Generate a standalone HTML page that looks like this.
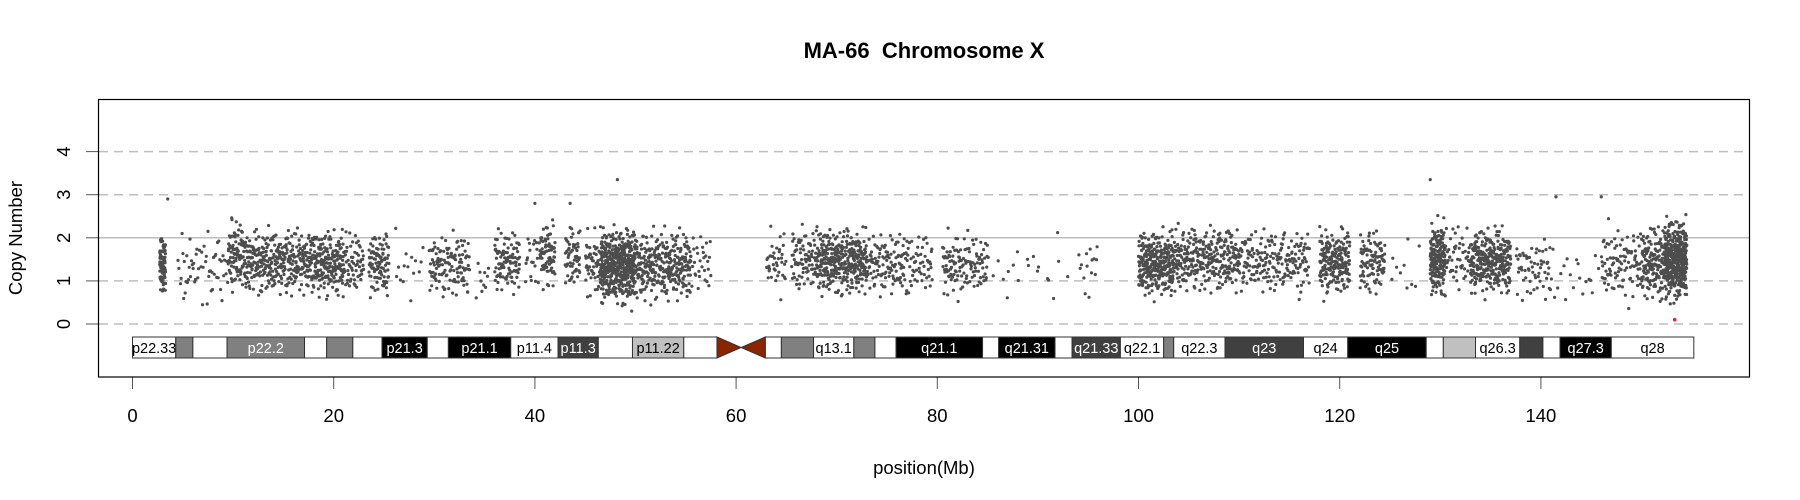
<!DOCTYPE html>
<html><head><meta charset="utf-8"><style>
html,body{margin:0;padding:0;background:#fff;}
svg{display:block;font-family:"Liberation Sans",Arial,sans-serif;}
</style></head><body>
<svg id="chart" width="1800" height="500" viewBox="0 0 1800 500" xmlns="http://www.w3.org/2000/svg">
<rect width="1800" height="500" fill="#fff"/>
<text x="924" y="58" text-anchor="middle" font-size="22" font-weight="bold" style="white-space:pre">MA-66  Chromosome X</text>
<text x="924" y="474" text-anchor="middle" font-size="18.5">position(Mb)</text>
<text transform="translate(22,238) rotate(-90)" text-anchor="middle" font-size="18.5">Copy Number</text>
<g id="grid"></g><g id="points"></g><g id="bands"></g><g id="axes"></g>
<rect x="98.5" y="99.5" width="1651" height="277.5" fill="none" stroke="#000" stroke-width="1.2"/>
</svg>
<script>
const xTicks=[0,20,40,60,80,100,120,140];
const yTicks=[0,1,2,3,4];
// bands: start, end (Mb)
const bandStart=[0,4.3,6.0,9.4,17.1,19.3,21.9,24.8,29.3,31.4,37.6,42.3,46.3,49.7,54.8,62.9,64.5,67.7,71.7,73.8,75.9,84.5,86.1,91.7,93.4,98.2,102.5,103.5,108.6,116.4,120.8,128.6,130.3,133.5,137.9,140.2,141.9,147.0];
const bandEnd=[4.3,6.0,9.4,17.1,19.3,21.9,24.8,29.3,31.4,37.6,42.3,46.3,49.7,54.8,58.1,64.5,67.7,71.7,73.8,75.9,84.5,86.1,91.7,93.4,98.2,102.5,103.5,108.6,116.4,120.8,128.6,130.3,133.5,137.9,140.2,141.9,147.0,155.2];
const bandStain=["w","g","w","g","w","g","w","b","w","b","w","d","w","l","w","w","g","w","g","w","b","w","b","w","d","w","g","w","d","w","b","w","l","w","d","w","b","w"];
const bandLabel=["p22.33","","","p22.2","","","","p21.3","","p21.1","p11.4","p11.3","","p11.22","","","","q13.1","","","q21.1","","q21.31","","q21.33","q22.1","","q22.3","q23","q24","q25","","","q26.3","","","q27.3","q28"];
const centromere=[58.1,62.9];
// point segments: start Mb, end Mb, count, median copy number, spread
const segStart=[2.7,4.5,9.5,11,18,21,23.5,26,29.5,34,36,39,40.5,43,45,46.5,50,55.5,63,65.5,68,73,77,80.5,82.5,85,94,100,103.5,110,118,122,125,129,130.5,133,137.5,141,146,150,152.3];
const segEnd=[3.3,9.5,11,18,21,23,25.5,29,33.5,35.5,38.5,40.5,42,44.5,46.5,50,55.5,57.5,65,68,73,77,79.5,82.5,85,93,96,103.5,110,117,121,124.5,128,130.5,133,137,141,146,150,152.3,154.5];
const segCount=[80,60,80,350,200,60,100,15,130,10,100,20,80,60,50,450,300,30,40,80,350,120,50,60,60,20,15,300,300,200,200,100,10,180,50,300,60,20,100,150,400];
const segMedian=[1.4,1.3,1.6,1.45,1.4,1.4,1.4,1.35,1.35,1.1,1.45,1.5,1.6,1.55,1.4,1.35,1.35,1.4,1.45,1.5,1.45,1.4,1.4,1.35,1.4,1.3,1.3,1.4,1.5,1.45,1.45,1.45,1.3,1.5,1.55,1.45,1.3,1.1,1.4,1.4,1.5];
const segSpread=[0.33,0.38,0.38,0.33,0.33,0.33,0.33,0.33,0.33,0.22,0.33,0.33,0.33,0.33,0.33,0.38,0.36,0.33,0.33,0.33,0.33,0.33,0.33,0.33,0.33,0.33,0.33,0.33,0.33,0.33,0.33,0.33,0.33,0.38,0.33,0.33,0.33,0.33,0.38,0.38,0.4];
const highPos=[3.5,40,43.5,48.2,129,141.5,146];
const highVal=[2.9,2.8,2.8,3.35,3.35,2.95,2.95];
const outlierPos=[153.3];const outlierVal=[0.1];

const NS="http://www.w3.org/2000/svg";
const X=mb=>132.5+10.06*mb;
const Y=v=>324-43.1*v;
function mk(tag,attrs,parent){const e=document.createElementNS(NS,tag);for(const k in attrs)e.setAttribute(k,attrs[k]);parent.appendChild(e);return e;}
const grid=document.getElementById('grid'),pts=document.getElementById('points'),bands=document.getElementById('bands'),axes=document.getElementById('axes');
yTicks.forEach(v=>{
  const l=mk('line',{x1:99,x2:1749,y1:Y(v),y2:Y(v),stroke:'#bebebe','stroke-width':1.5},grid);
  if(v!==2)l.setAttribute('stroke-dasharray','9,6');
  
  
});
function vdc(n,b){let r=0,f=1/b;while(n>0){r+=f*(n%b);n=Math.floor(n/b);f/=b;}return r;}
let idx=1;
segStart.forEach((s,i)=>{
  const e=segEnd[i],n=segCount[i],m=segMedian[i],sd=segSpread[i];
  for(let k=0;k<n;k++){
    idx++;
    const u=vdc(idx,2),a=vdc(idx,3),b=vdc(idx,5),c=vdc(idx,7);
    const z=(a+b+c-1.5)*2;
    const v=m+sd*z;
    const c1=mk('circle',{cx:(X(s+(e-s)*u)).toFixed(1),cy:Y(v).toFixed(1),r:1.6,fill:'#4d4d4d'},pts);
    
    
  }
});
highPos.forEach((p,i)=>{
  const c3=mk('circle',{cx:X(p),cy:Y(highVal[i]),r:1.6,fill:'#4d4d4d'},pts);
  
  
});
outlierPos.forEach((p,i)=>{
  const c2=mk('circle',{cx:X(p),cy:Y(outlierVal[i]),r:1.8,fill:'#d62728'},pts);
  
  
});
const fills={w:'#ffffff',g:'#808080',b:'#000000',d:'#404040',l:'#c0c0c0'};
const bt=337,bb=358;
bandStart.forEach((s,i)=>{
  const r=mk('rect',{x:X(s),y:bt,width:X(bandEnd[i])-X(s),height:bb-bt,fill:fills[bandStain[i]],stroke:'#333','stroke-width':1},bands);
  
  
  if(bandLabel[i]){
    const t=mk('text',{x:(X(s)+X(bandEnd[i]))/2,y:bb-5,'text-anchor':'middle','font-size':14.5,fill:(bandStain[i]==='w'||bandStain[i]==='l')?'#000':'#fff'},bands);
    t.textContent=bandLabel[i];
    
    
  }
});
const c0=X(centromere[0]),c1x=X(centromere[1]),cm=(c0+c1x)/2,ym=(bt+bb)/2;
const cen=mk('path',{d:`M${c0},${bt}L${cm},${ym}L${c0},${bb}Z M${c1x},${bt}L${cm},${ym}L${c1x},${bb}Z`,fill:'#8b2500',stroke:'#333','stroke-width':1},bands);


xTicks.forEach(t=>{
  const l=mk('line',{x1:X(t),x2:X(t),y1:377,y2:389,stroke:'#555','stroke-width':1},axes);
  
  
  const tx=mk('text',{x:X(t),y:422,'text-anchor':'middle','font-size':18.5},axes);
  tx.textContent=t;
  
  
});
yTicks.forEach(v=>{
  const l=mk('line',{x1:86,x2:98,y1:Y(v),y2:Y(v),stroke:'#555','stroke-width':1},axes);
  
  
  const tx=mk('text',{transform:`translate(70,${Y(v)}) rotate(-90)`,'text-anchor':'middle','font-size':18.5},axes);
  tx.textContent=v;
  
  
});
</script>
</body></html>
